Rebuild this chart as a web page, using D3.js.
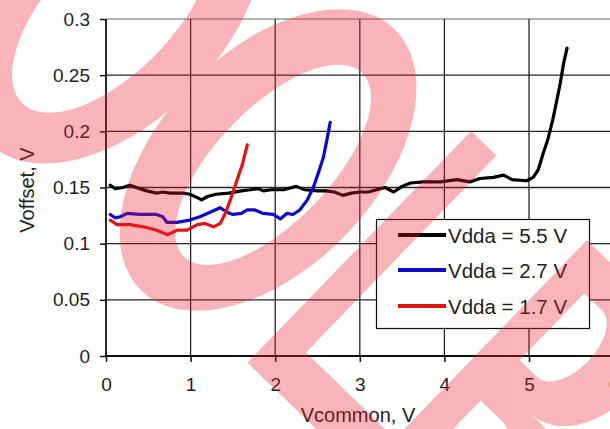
<!DOCTYPE html>
<html><head><meta charset="utf-8">
<script src="https://cdn.jsdelivr.net/npm/d3@7"></script>
<style>body{margin:0;background:#fff}svg{display:block}text{font-family:"Liberation Sans",Arial,sans-serif;fill:#222}</style>
</head><body><svg id="c" width="610" height="429"></svg>
<script>
const xTicks=[0,1,2,3,4,5,6];
const yTicks=[0,0.05,0.1,0.15,0.2,0.25,0.3];
const yTickLabels=["0","0.05","0.1","0.15","0.2","0.25","0.3"];
const seriesNames=["Vdda = 5.5 V","Vdda = 2.7 V","Vdda = 1.7 V"];
const seriesColors=["#000000","#0a0ac8","#e01414"];
const vdda55=[[0.05,0.152],[0.11,0.149],[0.2,0.150],[0.28,0.152],[0.4,0.149],[0.48,0.147],[0.6,0.145],[0.67,0.146],[0.76,0.145],[0.91,0.145],[0.99,0.144],[1.08,0.141],[1.13,0.139],[1.2,0.142],[1.3,0.144],[1.45,0.145],[1.6,0.147],[1.71,0.148],[1.8,0.149],[1.86,0.147],[1.95,0.148],[2.1,0.148],[2.25,0.151],[2.35,0.148],[2.5,0.147],[2.6,0.147],[2.7,0.146],[2.8,0.143],[2.9,0.145],[3.0,0.146],[3.1,0.146],[3.2,0.148],[3.3,0.150],[3.4,0.146],[3.5,0.151],[3.6,0.154],[3.75,0.155],[3.95,0.155],[4.15,0.157],[4.3,0.155],[4.42,0.158],[4.58,0.159],[4.7,0.161],[4.8,0.157],[4.97,0.156],[5.05,0.159],[5.11,0.166],[5.17,0.181],[5.22,0.192],[5.28,0.210],[5.33,0.228],[5.37,0.243],[5.41,0.261],[5.45,0.274]];
const vdda27=[[0.05,0.126],[0.11,0.123],[0.17,0.124],[0.25,0.127],[0.4,0.126],[0.6,0.126],[0.67,0.124],[0.72,0.119],[0.84,0.119],[0.99,0.121],[1.11,0.124],[1.23,0.128],[1.35,0.132],[1.43,0.128],[1.5,0.126],[1.6,0.127],[1.67,0.130],[1.76,0.130],[1.85,0.127],[1.98,0.126],[2.06,0.122],[2.14,0.127],[2.21,0.126],[2.29,0.130],[2.38,0.139],[2.45,0.150],[2.51,0.163],[2.57,0.177],[2.61,0.192],[2.65,0.208]];
const vdda17=[[0.05,0.121],[0.13,0.117],[0.28,0.117],[0.44,0.115],[0.6,0.112],[0.73,0.108],[0.84,0.112],[0.96,0.112],[1.08,0.117],[1.17,0.118],[1.27,0.115],[1.35,0.118],[1.41,0.127],[1.47,0.139],[1.55,0.157],[1.61,0.170],[1.67,0.188]];
const seriesData=[vdda55,vdda27,vdda17];

const svg=d3.select("#c");
const x=d3.scaleLinear().domain([0,6]).range([106,613.6]);
const y=d3.scaleLinear().domain([0,0.3]).range([356,19]);

// grid
svg.append("g").selectAll("line").data(yTicks.filter(d=>d>0)).join("line")
  .attr("x1",x(0)).attr("x2",x(6)).attr("y1",d=>y(d)).attr("y2",d=>y(d))
  .attr("stroke",d=>d===0.3?"#9a9a9a":"#262626").attr("stroke-width",1.3);
svg.append("g").selectAll("line").data(xTicks.filter(d=>d>0)).join("line")
  .attr("x1",d=>x(d)).attr("x2",d=>x(d)).attr("y1",y(0.3)).attr("y2",y(0))
  .attr("stroke","#262626").attr("stroke-width",1.3);

// axes
const xa=svg.append("g").attr("transform",`translate(0,${y(0)})`)
  .call(d3.axisBottom(x).tickValues(xTicks).tickFormat(d3.format("d")).tickSize(6).tickPadding(16));
const ya=svg.append("g").attr("transform",`translate(${x(0)},0)`)
  .call(d3.axisLeft(y).tickValues(yTicks).tickFormat((d,i)=>yTickLabels[i]).tickSize(6).tickPadding(10));
[xa,ya].forEach(a=>{a.select(".domain").attr("stroke","#111").attr("stroke-width",1.8);
  a.selectAll(".tick line").attr("stroke","#111").attr("stroke-width",1.5);
  a.selectAll("text").style("font-size","19px").style("font-family","Liberation Sans, Arial, sans-serif").attr("fill","#222");});
xa.select(".domain").attr("d",`M${x(0)},0H${x(6)}`);
ya.select(".domain").attr("d",`M0,${y(0.3)}V${y(0)}`);

// series
const line=d3.line().x(d=>x(d[0])).y(d=>y(d[1]));
svg.append("g").selectAll("path").data(seriesData).join("path")
  .attr("d",line).attr("fill","none").attr("stroke",(d,i)=>seriesColors[i])
  .attr("stroke-width",3.2).attr("stroke-linejoin","round").attr("stroke-linecap","round");

// axis titles
svg.append("text").attr("x",358).attr("y",422).attr("text-anchor","middle").style("font-size","20px").text("Vcommon, V");
svg.append("text").attr("transform","translate(34,190) rotate(-90)").attr("text-anchor","middle").style("font-size","20px").text("Voffset, V");

// legend
const lg=svg.append("g");
lg.append("rect").attr("x",376.5).attr("y",219.5).attr("width",213).attr("height",109).attr("fill","#fff").attr("stroke","#111").attr("stroke-width",1.2);
const ly=[235,270,306];
lg.selectAll("line").data(seriesNames).join("line").attr("x1",398).attr("x2",446)
  .attr("y1",(d,i)=>ly[i]).attr("y2",(d,i)=>ly[i]).attr("stroke",(d,i)=>seriesColors[i]).attr("stroke-width",4);
lg.selectAll("text").data(seriesNames).join("text").attr("x",448).attr("y",(d,i)=>ly[i]+7.5)
  .style("font-size","20.5px").text(d=>d);

// watermark overlay (rotated letters)
const C=[268,160], U=[0.695,-0.719], R=[0.719,0.695];
const P=(r,u)=>[C[0]+r*R[0]+u*U[0], C[1]+r*R[1]+u*U[1]];
function arc(cr,cu,rr,ru,t0,t1,n){return d3.range(0,n+1).map(k=>{const t=t0+(t1-t0)*k/n;return P(cr+rr*Math.sin(t),cu+ru*Math.cos(t));});}
function poly(pts){return "M"+pts.map(p=>p.join(",")).join("L")+"Z";}
const wm=svg.append("g").attr("opacity",0.33).attr("fill","#eb1e2d").attr("fill-rule","evenodd");
wm.append("path").attr("d",poly(arc(-212,0,108,182,0,2*Math.PI,72))+poly(arc(-216,0,62,130,0,2*Math.PI,72)));
wm.append("path").attr("d",poly(arc(0,0,108,182,0,2*Math.PI,72))+poly(arc(7,0,57,128,0,2*Math.PI,72)));
// L
wm.append("path").attr("d",poly([P(126,162),P(161,162),P(161,-112),P(330,-112),P(330,-160),P(126,-160)]));
// B
const bOuter=[P(285,-160),P(285,164),P(365,164)].concat(arc(365,82,58,82,0,Math.PI,24).slice(1,-1),[P(365,0),P(380,0)],arc(380,-80,70,80,0,Math.PI,24).slice(1,-1),[P(380,-160)]);
const bUp=[P(320,124),P(345,124)].concat(arc(345,77.5,25,46.5,0,Math.PI,16).slice(1,-1),[P(345,31),P(320,31)]);
const bLo=[P(320,-25),P(350,-25)].concat(arc(350,-72.5,32,47.5,0,Math.PI,16).slice(1,-1),[P(350,-120),P(320,-120)]);
wm.append("path").attr("d",poly(bOuter)+poly(bUp)+poly(bLo));
</script></body></html>
